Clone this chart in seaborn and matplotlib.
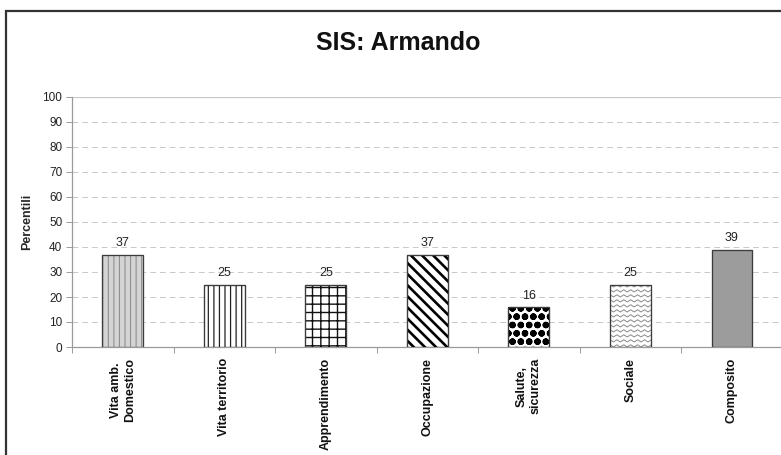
import numpy as np
import pandas as pd
import matplotlib
matplotlib.use("Agg")
import matplotlib.pyplot as plt
from matplotlib.patches import Rectangle
import seaborn as sns

categories = ["Vita amb.\nDomestico", "Vita territorio", "Apprendimento",
              "Occupazione", "Salute,\nsicurezza", "Sociale", "Composito"]
percentili = [37, 25, 25, 37, 16, 25, 39]
y_ticks = [0, 10, 20, 30, 40, 50, 60, 70, 80, 90, 100]

# per-bar texture: (face colour, hatch, hatch colour, hatch width)
textures = [
    ("#d4d4d4", "|||", "#8f8f8f", 0.8),
    ("white", "|||", "#222222", 0.9),
    ("white", "++", "#111111", 1.0),
    ("white", "\\\\\\", "#000000", 1.9),
    ("white", "oo", "#000000", 2.3),
    ("white", None, "#888888", 0.8),
    ("#9c9c9c", None, "#666666", 0.8),
]

sns.set_theme(style="white")
plt.rcParams["font.family"] = ["Liberation Sans", "DejaVu Sans"]

fig = plt.figure(figsize=(7.81, 4.55), dpi=100)
ax = fig.add_axes([72 / 781, 1 - 347 / 455, 1.0 - 72 / 781 + 0.002, (347 - 97) / 455])

df = pd.DataFrame({"cat": categories, "val": percentili})
sns.barplot(data=df, x="cat", y="val", color="white", width=0.4,
            saturation=1, ax=ax, zorder=3)

for patch, (fc, hatch, hc, hlw) in zip(ax.patches, textures):
    patch.set_facecolor(fc)
    patch.set_edgecolor(hc)
    patch.set_linewidth(0.8)
    if hatch:
        patch.set_hatch(hatch)
        if hasattr(patch, "set_hatch_linewidth"):
            patch.set_hatch_linewidth(hlw)

# wavy texture for the "Sociale" bar, clipped to its rectangle
soc = ax.patches[5]
x0, w = soc.get_x(), soc.get_width()
h = soc.get_height()
step_x = 0.034
step_y = 2.0
xs = np.arange(x0 - step_x, x0 + w + 2 * step_x, step_x)
for base in np.arange(-step_y, h + step_y, step_y):
    ys = base + np.where(np.arange(len(xs)) % 2 == 0, 0.0, 0.9)
    ln, = ax.plot(xs, ys, color="#8a8a8a", lw=0.7, zorder=3.5)
    ln.set_clip_path(soc)

# dark outline on top of each bar
ax.bar(np.arange(len(percentili)), percentili, width=0.4, fill=False,
       edgecolor="#3c3c3c", linewidth=0.9, zorder=4)

# value labels
for i, v in enumerate(percentili):
    ax.text(i, v + 2.0, f"{v}", ha="center", va="bottom", fontsize=9,
            color="#222222")

ax.set_xlim(-0.5, len(categories) - 0.5)
ax.set_ylim(0, 100)
ax.set_yticks(y_ticks)
ax.set_yticklabels([str(t) for t in y_ticks], fontsize=8.5, color="#222222")

# gridlines
for t in y_ticks[1:-1]:
    ax.axhline(t, color="#c8c8c8", lw=0.7, ls=(0, (6, 4)), zorder=1)
ax.axhline(100, color="#c8c8c8", lw=0.9, zorder=1)

# category labels and boundary ticks
ax.set_xticks(np.arange(len(categories)))
ax.set_xticklabels(categories, rotation=90, fontsize=9, fontweight="bold",
                   va="top", ha="center", multialignment="center",
                   color="#111111")
ax.tick_params(axis="x", which="major", length=0, pad=8)
ax.set_xticks(np.arange(len(categories) + 1) - 0.5, minor=True)
ax.tick_params(axis="x", which="minor", length=4, width=0.7, color="#9a9a9a",
               bottom=True, direction="out")
ax.tick_params(axis="y", length=4, width=0.7, color="#9a9a9a", left=True,
               direction="out", pad=3)

ax.set_xlabel("")
ax.set_ylabel("Percentili", fontsize=9, fontweight="bold", labelpad=7)

for side in ["top", "right"]:
    ax.spines[side].set_visible(False)
ax.spines["left"].set_color("#9a9a9a")
ax.spines["bottom"].set_color("#9a9a9a")
ax.spines["left"].set_linewidth(0.9)
ax.spines["bottom"].set_linewidth(0.9)

fig.text(398 / 781, 1 - 43 / 455, "SIS: Armando", ha="center", va="center",
         fontsize=18, fontweight="bold", color="#111111")

# outer frame
fig.add_artist(Rectangle((6 / 781, -0.2), 1.2, 0.2 + 1 - 11 / 455,
                         transform=fig.transFigure, fill=False,
                         edgecolor="#333333", linewidth=1.6))

fig.savefig("out.png", dpi=100)
